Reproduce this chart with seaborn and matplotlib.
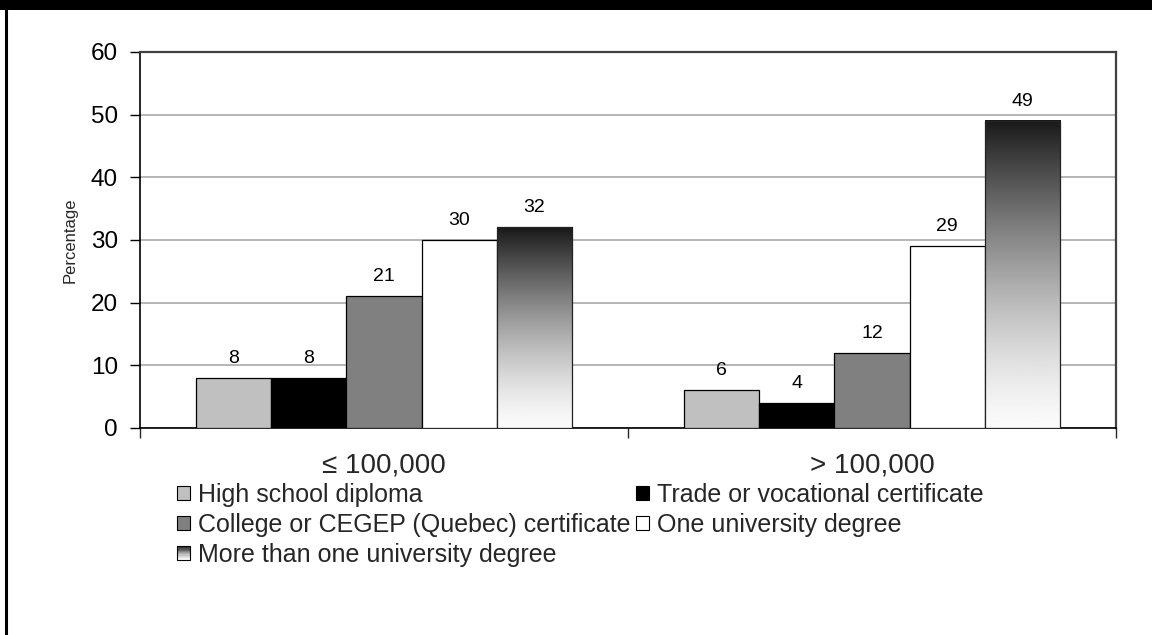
import numpy as np
import pandas as pd
import matplotlib
matplotlib.use("Agg")
import matplotlib.pyplot as plt
import seaborn as sns
from matplotlib.patches import Rectangle
from matplotlib.lines import Line2D
from matplotlib.legend_handler import HandlerBase

# ---- data -------------------------------------------------------------
size_groups = ["≤ 100,000", "> 100,000"]
education = [
    "High school diploma",
    "Trade or vocational certificate",
    "College or CEGEP (Quebec) certificate",
    "One university degree",
    "More than one university degree",
]
small_values = [8, 8, 21, 30, 32]
large_values = [6, 4, 12, 29, 49]
y_ticks = [0, 10, 20, 30, 40, 50, 60]

fills = ["#c0c0c0", "#000000", "#808080", "#ffffff", "#ffffff"]

df = pd.DataFrame({
    "group": np.repeat(size_groups, len(education)),
    "education": education * len(size_groups),
    "pct": small_values + large_values,
})

# ---- style ------------------------------------------------------------
sns.set_theme(style="white")
plt.rcParams["font.family"] = ["Liberation Sans", "DejaVu Sans"]

W, H = 1152, 635
fig = plt.figure(figsize=(W / 100, H / 100), dpi=100)
fig.patch.set_facecolor("white")

# black heading band and left frame line
fig.add_artist(Rectangle((0, 1 - 10 / H), 1, 10 / H, transform=fig.transFigure,
                         facecolor="black", edgecolor="none"))
fig.add_artist(Line2D([6 / W, 6 / W], [0, 1], transform=fig.transFigure,
                      color="black", linewidth=2.2))

ax = fig.add_axes([140 / W, 1 - 428 / H, (1116 - 140) / W, (428 - 52) / H])

sns.barplot(data=df, x="group", y="pct", hue="education", hue_order=education,
            order=size_groups, palette=dict(zip(education, fills)),
            width=0.77, gap=0, saturation=1, edgecolor="black", linewidth=0.9,
            legend=False, ax=ax, zorder=3)


def shade(n=256):
    # dark at the top fading to near white at the bottom
    s = np.linspace(1, 0, n)  # fraction from top, row 0 = bottom
    g = 0.10 + 0.88 * (1 - (1 - s) ** 1.4)
    return g.reshape(n, 1)


grad = shade()
for bar in ax.containers[4]:
    x, y = bar.get_x(), bar.get_y()
    w, h = bar.get_width(), bar.get_height()
    ax.imshow(grad, extent=[x, x + w, y, y + h], origin="lower", cmap="gray",
              vmin=0, vmax=1, aspect="auto", zorder=3.5, interpolation="bilinear")
    bar.set_facecolor("none")
    bar.set_edgecolor("#222222")
    bar.set_zorder(4)

for cont in ax.containers:
    ax.bar_label(cont, padding=8, fontsize=14, color="black")

ax.set_xlim(-0.5, 1.5)
ax.set_ylim(0, 60)
ax.set_yticks(y_ticks)
ax.tick_params(axis="y", labelsize=17.5, length=7, width=1, direction="out",
               left=True, pad=9, colors="black")
ax.yaxis.grid(True, color="#b0b0b0", linewidth=1.3)
ax.set_axisbelow(True)

# category labels centred, tick marks on group boundaries
ax.set_xticks([-0.5, 0.5, 1.5])
ax.set_xticklabels([])
ax.set_xticks([0, 1], minor=True)
ax.set_xticklabels(size_groups, minor=True, fontsize=20)
ax.tick_params(axis="x", which="major", length=7, width=1, direction="out", bottom=True)
ax.tick_params(axis="x", which="minor", length=0, pad=18)
ax.set_xlabel("")
ax.set_ylabel("Percentage", fontsize=12)
ax.yaxis.set_label_coords((78 - 140) / (1116 - 140), 0.5)

for side in ["left", "bottom"]:
    ax.spines[side].set_color("black")
    ax.spines[side].set_linewidth(1.2)
for side in ["top", "right"]:
    ax.spines[side].set_color("#404040")
    ax.spines[side].set_linewidth(1.6)


# ---- legend -----------------------------------------------------------
class GradientHandler(HandlerBase):
    def create_artists(self, legend, orig_handle, xdescent, ydescent, width,
                       height, fontsize, trans):
        arts = []
        n = 12
        vals = shade(n).ravel()
        for i in range(n):
            arts.append(Rectangle((-xdescent, -ydescent + height * i / n), width,
                                  height / n, facecolor=str(vals[i]),
                                  edgecolor="none", transform=trans))
        arts.append(Rectangle((-xdescent, -ydescent), width, height,
                              facecolor="none", edgecolor="black", linewidth=0.8,
                              transform=trans))
        return arts


handles = [Rectangle((0, 0), 1, 1, facecolor=c, edgecolor="black", linewidth=0.8)
           for c in fills]
order = [0, 2, 4, 1, 3]
leg = fig.legend([handles[i] for i in order], [education[i] for i in order],
                 loc="upper left", bbox_to_anchor=(177 / W, 1 - 483 / H), ncol=2,
                 frameon=False, fontsize=18, handlelength=0.5, handleheight=0.5,
                 handletextpad=0.32, columnspacing=0.25, labelspacing=0.24,
                 borderpad=0, borderaxespad=0,
                 handler_map={handles[4]: GradientHandler()})

fig.savefig("out.png", dpi=100, facecolor="white")
